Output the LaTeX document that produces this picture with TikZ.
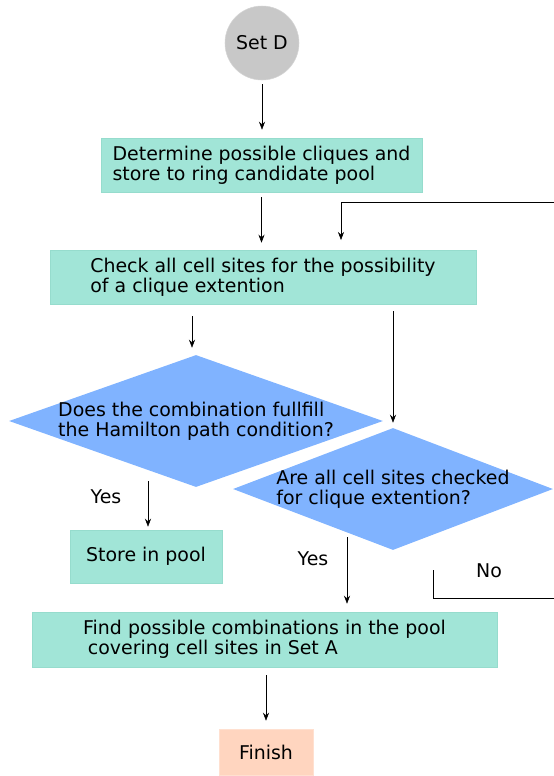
\documentclass[tikz,border=0pt]{standalone}
\usepackage{fontspec}
\setmainfont{DejaVu Sans}
\usepackage{tikz}
\usetikzlibrary{%
    arrows.meta,%
    shapes.geometric,%
    calc%
}
\definecolor{procfill}{RGB}{161,229,215}
\definecolor{procline}{RGB}{150,220,205}
\definecolor{decfill}{RGB}{128,179,255}
\definecolor{startfill}{RGB}{200,200,200}
\definecolor{startline}{RGB}{212,212,212}
\definecolor{endfill}{RGB}{255,213,191}
\definecolor{endline}{RGB}{255,224,208}

\begin{document}
\begin{tikzpicture}[
  x=0.75pt, y=-0.75pt,
  font={\fontsize{14.2}{14.8}\selectfont},
  process/.style={rectangle, draw=procline, fill=procfill, align=left,
    inner sep=0pt},
  decision/.style={diamond, fill=decfill, inner sep=0pt},
  terminal/.style={circle, draw=startline, fill=startfill,
    minimum size=74*0.75pt, inner sep=0pt},
  finishbox/.style={rectangle, draw=endline, fill=endfill, inner sep=0pt,
    minimum width=94*0.75pt, minimum height=46*0.75pt},
  flow/.style={-{Stealth[length=6pt,width=4.5pt]}, thin},
  ]
  \useasboundingbox (0,0) rectangle (554,776);

  % Start
  \node[terminal] (setd) at (262,43) {Set D};

  % Boxes
  \node[process, minimum width=321*0.75pt, minimum height=54*0.75pt]
    (pool) at (261.5,165) {Determine possible cliques and\\store to ring candidate pool};
  \node[process, minimum width=426*0.75pt, minimum height=54*0.75pt]
    (check) at (263,277) {Check all cell sites for the possibility\\of a clique extention};

  % Decisions
  \node[decision, minimum width=374*0.75pt, minimum height=132*0.75pt]
    (hamil) at (196,421) {};
  \node[align=left] (hamiltxt) at (hamil.center) {Does the combination fullfill\\the Hamilton path condition?};
  \node[decision, minimum width=320*0.75pt, minimum height=122*0.75pt]
    (alldone) at (393,489) {};
  \node[align=left] (alldonetxt) at (alldone.center) {Are all cell sites checked\\for clique extention?};

  \node[process, minimum width=152*0.75pt, minimum height=53*0.75pt]
    (store) at (146,556.5) {Store in pool};
  \node[process, minimum width=465*0.75pt, minimum height=55*0.75pt]
    (combi) at (264.5,639.5) {Find possible combinations in the pool\\\hspace*{0.25em}covering cell sites in Set A};

  % End
  \node[finishbox] (finish) at (266,752) {Finish};

  % Labels
  \node (yesa) at (106,497) {Yes};
  \node (yesb) at (313,559) {Yes};
  \node (no) at (489,571) {No};

  % Arrows
  \draw[flow, shorten <=4*0.75pt, shorten >=8*0.75pt] (setd) -- (setd |- pool.north);
  \draw[flow, shorten <=5*0.75pt, shorten >=7*0.75pt] (pool) -- (pool |- check.north);
  \draw[flow, shorten <=12*0.75pt, shorten >=7*0.75pt]
    ($(check.south)+(-71,0)$) -- ($(hamil.north)+(-4,0)$);
  \draw[flow, shorten <=7*0.75pt, shorten >=5*0.75pt]
    (alldone.north |- check.south) -- (alldone.north);
  \coordinate (yesastart) at (148,481);
  \draw[flow, shorten >=3*0.75pt] (yesastart) -- (yesastart |- store.north);
  \coordinate (yesbstart) at (347,537);
  \draw[flow, shorten >=8*0.75pt] (yesbstart) -- (yesbstart |- combi.north);
  \draw[flow, shorten <=8*0.75pt, shorten >=8*0.75pt] (combi.south -| finish) -- (finish.north);

  % Loop back (runs off the page on the right)
  \coordinate (noa) at (433,570);
  \coordinate (nob) at (554,598);
  \draw[thin] (noa) |- (nob);
  \coordinate (backa) at (554,202);
  \coordinate (backb) at (341,240);
  \draw[flow] (backa) -| (backb);
\end{tikzpicture}
\end{document}
